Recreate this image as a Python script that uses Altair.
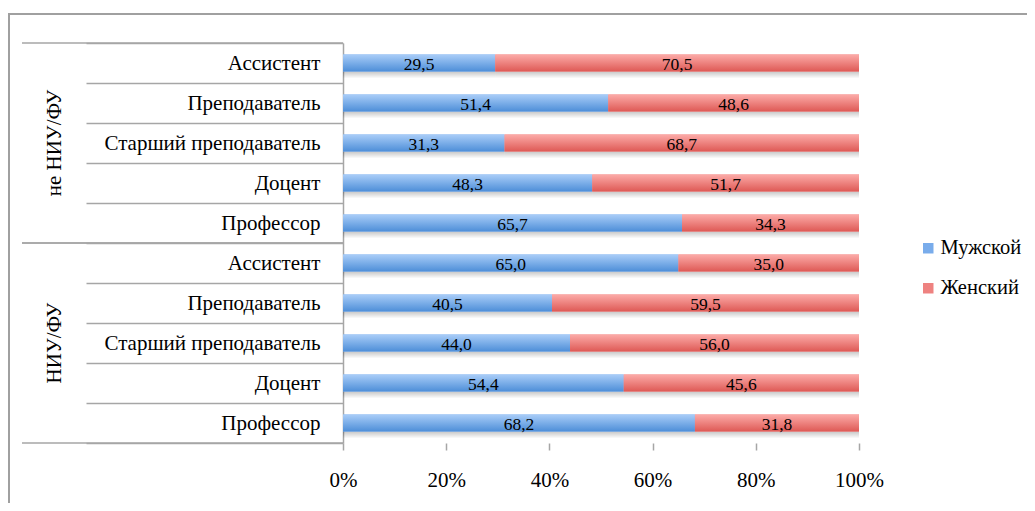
import altair as alt
import pandas as pd

groups = ["не НИУ/ФУ"] * 5 + ["НИУ/ФУ"] * 5
positions = ["Ассистент", "Преподаватель", "Старший преподаватель", "Доцент", "Профессор"] * 2
male = [29.5, 51.4, 31.3, 48.3, 65.7, 65.0, 40.5, 44.0, 54.4, 68.2]
female = [70.5, 48.6, 68.7, 51.7, 34.3, 35.0, 59.5, 56.0, 45.6, 31.8]
series = ["Мужской", "Женский"]
tick_values = [0, 20, 40, 60, 80, 100]

FONT = "Liberation Serif, Times New Roman, serif"
GRAY = "#a6a6a6"

keys = [g + "|" + p for g, p in zip(groups, positions)]
rows = []
for k, g, p, m, f in zip(keys, groups, positions, male, female):
    rows.append(dict(key=k, group=g, pos=p, sex=series[0], v=m, x0=0.0, x1=m))
    rows.append(dict(key=k, group=g, pos=p, sex=series[1], v=f, x0=m, x1=m + f))
df = pd.DataFrame(rows)
df["label"] = df["v"].map(lambda v: f"{v:.1f}".replace(".", ","))
df["mid"] = (df["x0"] + df["x1"]) / 2

group_names = list(dict.fromkeys(groups))
first_keys = pd.DataFrame({"key": [keys[groups.index(g)] for g in group_names]})
last_keys = pd.DataFrame({"key": [keys[len(groups) - 1 - groups[::-1].index(g)] for g in group_names]})
mid_keys = pd.DataFrame({
    "key": [[k for k, gg in zip(keys, groups) if gg == g][2] for g in group_names],
    "group": group_names,
})

yscale = alt.Scale(domain=keys, paddingInner=0, paddingOuter=0)
xscale = alt.Scale(domain=[0, 100])

y_axis = alt.Axis(
    title=None,
    labelExpr="split(datum.label, '|')[1]",
    labelFont=FONT, labelFontSize=21, labelColor="black",
    labelLimit=400, labelPadding=-234,
    tickBand="extent", tickSize=257, tickColor=GRAY, tickWidth=1.5,
    domainColor=GRAY, domainWidth=1.5,
)
x_axis = alt.Axis(
    title=None, values=tick_values, labelExpr="datum.value + '%'",
    domain=False, grid=False, tickSize=7, tickColor=GRAY, tickWidth=1.5,
    labelFont=FONT, labelFontSize=21, labelColor="black", labelPadding=19,
    labelFlush=False,
)


def Y(**kw):
    return alt.Y("key:N", sort=keys, scale=yscale, axis=y_axis, **kw)


def X(field):
    return alt.X(field, scale=xscale, axis=x_axis)


def grad(top, bottom):
    return alt.Gradient(
        gradient="linear",
        stops=[alt.GradientStop(color=top, offset=0), alt.GradientStop(color=bottom, offset=1)],
        x1=0, x2=0, y1=0, y2=1,
    )


base = alt.Chart(df)

shadow = base.mark_bar(height=7, yOffset=12, color=grad("rgba(0,0,0,0.22)", "rgba(0,0,0,0)")).encode(
    x=X("x0:Q"), x2="x1:Q", y=Y()
)

legend_bars = base.mark_bar(height=17).encode(
    x=X("x0:Q"), x2="x1:Q", y=Y(),
    color=alt.Color(
        "sex:N",
        scale=alt.Scale(domain=series, range=["#79aceb", "#ee8280"]),
        legend=alt.Legend(
            title=None, orient="none", legendX=575, legendY=195,
            symbolType="square", symbolSize=110, symbolStrokeWidth=0,
            labelFont=FONT, labelFontSize=20.5, labelColor="black",
            rowPadding=19, labelOffset=2,
        ),
    ),
)

male_bars = base.transform_filter(alt.datum.sex == series[0]).mark_bar(
    height=17, color=grad("#a9cdf8", "#4d8ed8")
).encode(x=X("x0:Q"), x2="x1:Q", y=Y())

female_bars = base.transform_filter(alt.datum.sex == series[1]).mark_bar(
    height=17, color=grad("#fcaba8", "#de5955")
).encode(x=X("x0:Q"), x2="x1:Q", y=Y())

labels = base.mark_text(font=FONT, fontSize=17.5, color="black", baseline="middle", dy=2).encode(
    x=X("mid:Q"), y=Y(), text="label:N"
)

top_rules = alt.Chart(first_keys).mark_rule(color=GRAY, strokeWidth=1.5).encode(
    y=Y(bandPosition=0), x=alt.value(-321), x2=alt.value(0)
)
bottom_rules = alt.Chart(last_keys).mark_rule(color=GRAY, strokeWidth=1.5).encode(
    y=Y(bandPosition=1), x=alt.value(-321), x2=alt.value(0)
)
group_labels = alt.Chart(mid_keys).mark_text(
    font=FONT, fontSize=21, color="black", angle=270, baseline="middle", align="center"
).encode(y=Y(), x=alt.value(-288), text="group:N")

frame = pd.DataFrame({"a": [0]})
border_left = alt.Chart(frame).mark_rule(color="#a0a0a0", strokeWidth=2).encode(
    x=alt.value(-334), y=alt.value(-29), y2=alt.value(480)
)
border_top = alt.Chart(frame).mark_rule(color="#a0a0a0", strokeWidth=2).encode(
    x=alt.value(-335), x2=alt.value(700), y=alt.value(-29)
)

chart = alt.layer(
    border_left, border_top, shadow, legend_bars, male_bars, female_bars, labels,
    top_rules, bottom_rules, group_labels,
).properties(
    width=516, height=400,
    padding={"left": 335, "top": 35, "right": 168, "bottom": 60},
    autosize=alt.AutoSizeParams(type="none"),
    background="white",
).configure_view(stroke=None)

chart.save("out.html", embed_options={"renderer": "svg", "actions": False})
